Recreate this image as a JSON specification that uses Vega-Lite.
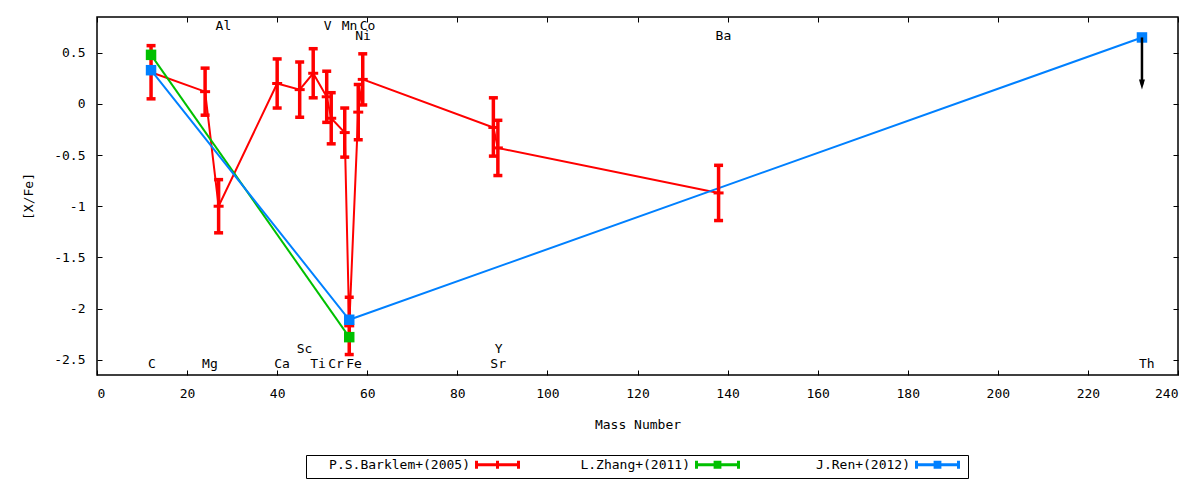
{
  "$schema": "https://vega.github.io/schema/vega-lite/v6.json",
  "autosize": "none",
  "width": 1081,
  "height": 358,
  "padding": {"left": 97, "top": 17, "right": 22, "bottom": 105},
  "background": "white",
  "datasets": {
    "obs": [
      {"series": "P.S.Barklem+(2005)", "el": "C", "mass": 12, "y": 0.31, "lo": 0.05, "hi": 0.57},
      {"series": "P.S.Barklem+(2005)", "el": "Mg", "mass": 24, "y": 0.12, "lo": -0.11, "hi": 0.35},
      {"series": "P.S.Barklem+(2005)", "el": "Al", "mass": 27, "y": -1.0, "lo": -1.26, "hi": -0.74},
      {"series": "P.S.Barklem+(2005)", "el": "Ca", "mass": 40, "y": 0.2, "lo": -0.04, "hi": 0.44},
      {"series": "P.S.Barklem+(2005)", "el": "Sc", "mass": 45, "y": 0.14, "lo": -0.13, "hi": 0.41},
      {"series": "P.S.Barklem+(2005)", "el": "Ti", "mass": 48, "y": 0.3, "lo": 0.06, "hi": 0.54},
      {"series": "P.S.Barklem+(2005)", "el": "V", "mass": 51, "y": 0.07, "lo": -0.18, "hi": 0.32},
      {"series": "P.S.Barklem+(2005)", "el": "Cr", "mass": 52, "y": -0.14, "lo": -0.39, "hi": 0.11},
      {"series": "P.S.Barklem+(2005)", "el": "Mn", "mass": 55, "y": -0.28, "lo": -0.52, "hi": -0.04},
      {"series": "P.S.Barklem+(2005)", "el": "Fe", "mass": 56, "y": -2.17, "lo": -2.45, "hi": -1.89},
      {"series": "P.S.Barklem+(2005)", "el": "Ni", "mass": 58, "y": -0.08, "lo": -0.35, "hi": 0.19},
      {"series": "P.S.Barklem+(2005)", "el": "Co", "mass": 59, "y": 0.24, "lo": -0.01, "hi": 0.49},
      {"series": "P.S.Barklem+(2005)", "el": "Sr", "mass": 88, "y": -0.23, "lo": -0.51, "hi": 0.06},
      {"series": "P.S.Barklem+(2005)", "el": "Y", "mass": 89, "y": -0.43, "lo": -0.7, "hi": -0.16},
      {"series": "P.S.Barklem+(2005)", "el": "Ba", "mass": 138, "y": -0.87, "lo": -1.14, "hi": -0.6},
      {"series": "L.Zhang+(2011)", "el": "C", "mass": 12, "y": 0.48},
      {"series": "L.Zhang+(2011)", "el": "Fe", "mass": 56, "y": -2.28},
      {"series": "J.Ren+(2012)", "el": "C", "mass": 12, "y": 0.33},
      {"series": "J.Ren+(2012)", "el": "Fe", "mass": 56, "y": -2.11},
      {"series": "J.Ren+(2012)", "el": "Th", "mass": 232, "y": 0.65}
    ],
    "limits": [
      {"el": "Th", "mass": 232, "y": 0.65, "y2": 0.19}
    ],
    "labels": [
      {"el": "C", "mass": 12, "y": -2.54},
      {"el": "Mg", "mass": 24, "y": -2.54},
      {"el": "Ca", "mass": 40, "y": -2.54},
      {"el": "Ti", "mass": 48, "y": -2.54},
      {"el": "Cr", "mass": 52, "y": -2.54},
      {"el": "Fe", "mass": 56, "y": -2.54},
      {"el": "Sr", "mass": 88, "y": -2.54},
      {"el": "Th", "mass": 232, "y": -2.54},
      {"el": "Sc", "mass": 45, "y": -2.4},
      {"el": "Y", "mass": 89, "y": -2.4},
      {"el": "Al", "mass": 27, "y": 0.76},
      {"el": "V", "mass": 51, "y": 0.76},
      {"el": "Mn", "mass": 55, "y": 0.76},
      {"el": "Co", "mass": 59, "y": 0.76},
      {"el": "Ni", "mass": 58, "y": 0.66},
      {"el": "Ba", "mass": 138, "y": 0.66}
    ]
  },
  "resolve": {"axis": {"x": "independent", "y": "independent"}},
  "layer": [
    {
      "data": {"name": "obs"},
      "mark": {"type": "line", "strokeWidth": 2},
      "encoding": {
        "x": {
          "field": "mass", "type": "quantitative",
          "scale": {"domain": [0, 240], "nice": false, "zero": false},
          "axis": {"orient": "bottom", "title": "Mass Number", "values": [0, 20, 40, 60, 80, 100, 120, 140, 160, 180, 200, 220, 240], "labelExpr": "'' + datum.value"}
        },
        "y": {
          "field": "y", "type": "quantitative",
          "scale": {"domain": [-2.65, 0.85], "nice": false, "zero": false},
          "axis": {"orient": "left", "title": "[X/Fe]", "values": [-2.5, -2, -1.5, -1, -0.5, 0, 0.5], "labelExpr": "'' + datum.value"}
        },
        "color": {
          "field": "series", "type": "nominal",
          "scale": {"domain": ["P.S.Barklem+(2005)", "L.Zhang+(2011)", "J.Ren+(2012)"], "range": ["#ff0000", "#00c000", "#0080ff"]},
          "legend": {
            "title": null,
            "orient": "none",
            "legendX": 209,
            "legendY": 438,
            "direction": "horizontal",
            "encode": {
              "symbols": {
                "update": {
                  "shape": {"signal": "datum.value === 'P.S.Barklem+(2005)' ? 'M-5.25,0H5.25M-5.25,-1V1M5.25,-1V1M0,-1V1' : 'M-5.25,0H5.25M-5.25,-1V1M5.25,-1V1M-0.6,-0.6H0.6V0.6H-0.6Z'"},
                  "fill": {"scale": "color", "field": "value"},
                  "stroke": {"scale": "color", "field": "value"},
                  "strokeWidth": {"value": 3}
                }
              }
            }
          }
        }
      }
    },
    {
      "data": {"name": "obs"},
      "transform": [{"filter": "isValid(datum.lo)"}],
      "mark": {"type": "rule", "color": "#ff0000", "strokeWidth": 3.5},
      "encoding": {
        "x": {"field": "mass", "type": "quantitative", "axis": null},
        "y": {"field": "lo", "type": "quantitative", "axis": null},
        "y2": {"field": "hi"}
      }
    },
    {
      "data": {"name": "obs"},
      "transform": [{"filter": "isValid(datum.lo)"}],
      "mark": {"type": "tick", "orient": "horizontal", "color": "#ff0000", "size": 9, "thickness": 3.5, "opacity": 1},
      "encoding": {
        "x": {"field": "mass", "type": "quantitative", "axis": null},
        "y": {"field": "lo", "type": "quantitative", "axis": null}
      }
    },
    {
      "data": {"name": "obs"},
      "transform": [{"filter": "isValid(datum.lo)"}],
      "mark": {"type": "tick", "orient": "horizontal", "color": "#ff0000", "size": 9, "thickness": 3.5, "opacity": 1},
      "encoding": {
        "x": {"field": "mass", "type": "quantitative", "axis": null},
        "y": {"field": "hi", "type": "quantitative", "axis": null}
      }
    },
    {
      "data": {"name": "obs"},
      "transform": [{"filter": "isValid(datum.lo)"}],
      "mark": {"type": "tick", "orient": "horizontal", "color": "#ff0000", "size": 10, "thickness": 3, "opacity": 1},
      "encoding": {
        "x": {"field": "mass", "type": "quantitative", "axis": null},
        "y": {"field": "y", "type": "quantitative", "axis": null}
      }
    },
    {
      "data": {"name": "obs"},
      "transform": [{"filter": "!isValid(datum.lo)"}],
      "mark": {"type": "point", "shape": "square", "filled": true, "size": 110, "opacity": 1},
      "encoding": {
        "x": {"field": "mass", "type": "quantitative", "axis": null},
        "y": {"field": "y", "type": "quantitative", "axis": null},
        "color": {"field": "series", "type": "nominal", "legend": null}
      }
    },
    {
      "data": {"name": "limits"},
      "mark": {"type": "rule", "color": "black", "strokeWidth": 2.5},
      "encoding": {
        "x": {"field": "mass", "type": "quantitative", "axis": null},
        "y": {"field": "y", "type": "quantitative", "axis": null},
        "y2": {"field": "y2"}
      }
    },
    {
      "data": {"name": "limits"},
      "mark": {"type": "point", "shape": "M-0.6,-1L0.6,-1L0,1Z", "filled": true, "color": "black", "size": 100, "opacity": 1},
      "encoding": {
        "x": {"field": "mass", "type": "quantitative", "axis": null},
        "y": {"field": "y2", "type": "quantitative", "axis": null}
      }
    },
    {
      "data": {"name": "labels"},
      "mark": {"type": "text", "align": "left", "baseline": "middle", "dx": -3, "fontSize": 13, "color": "black"},
      "encoding": {
        "x": {"field": "mass", "type": "quantitative", "axis": {"orient": "top", "labels": false, "title": null, "values": [0, 20, 40, 60, 80, 100, 120, 140, 160, 180, 200, 220, 240]}},
        "y": {"field": "y", "type": "quantitative", "axis": {"orient": "right", "labels": false, "title": null, "values": [-2.5, -2, -1.5, -1, -0.5, 0, 0.5]}},
        "text": {"field": "el"}
      }
    }
  ],
  "config": {
    "font": "DejaVu Sans Mono",
    "view": {"stroke": "black", "strokeWidth": 1.5},
    "axis": {
      "domain": false,
      "grid": false,
      "tickColor": "black",
      "tickSize": -5,
      "tickWidth": 1,
      "labelFont": "DejaVu Sans Mono",
      "labelFontSize": 13,
      "labelColor": "black",
      "labelPadding": 17,
      "titleFont": "DejaVu Sans Mono",
      "titleFontSize": 13,
      "titleFontWeight": "normal",
      "titleColor": "black"
    },
    "axisX": {"titlePadding": 18},
    "axisY": {"titlePadding": 18},
    "legend": {
      "labelFont": "DejaVu Sans Mono",
      "labelFontSize": 13,
      "labelColor": "black",
      "labelAlign": "right",
      "symbolSize": 64,
      "symbolStrokeWidth": 3,
      "symbolOffset": 182,
      "labelOffset": -34,
      "gridAlign": "all",
      "columnPadding": 4,
      "strokeColor": "black",
      "padding": 3
    }
  }
}
